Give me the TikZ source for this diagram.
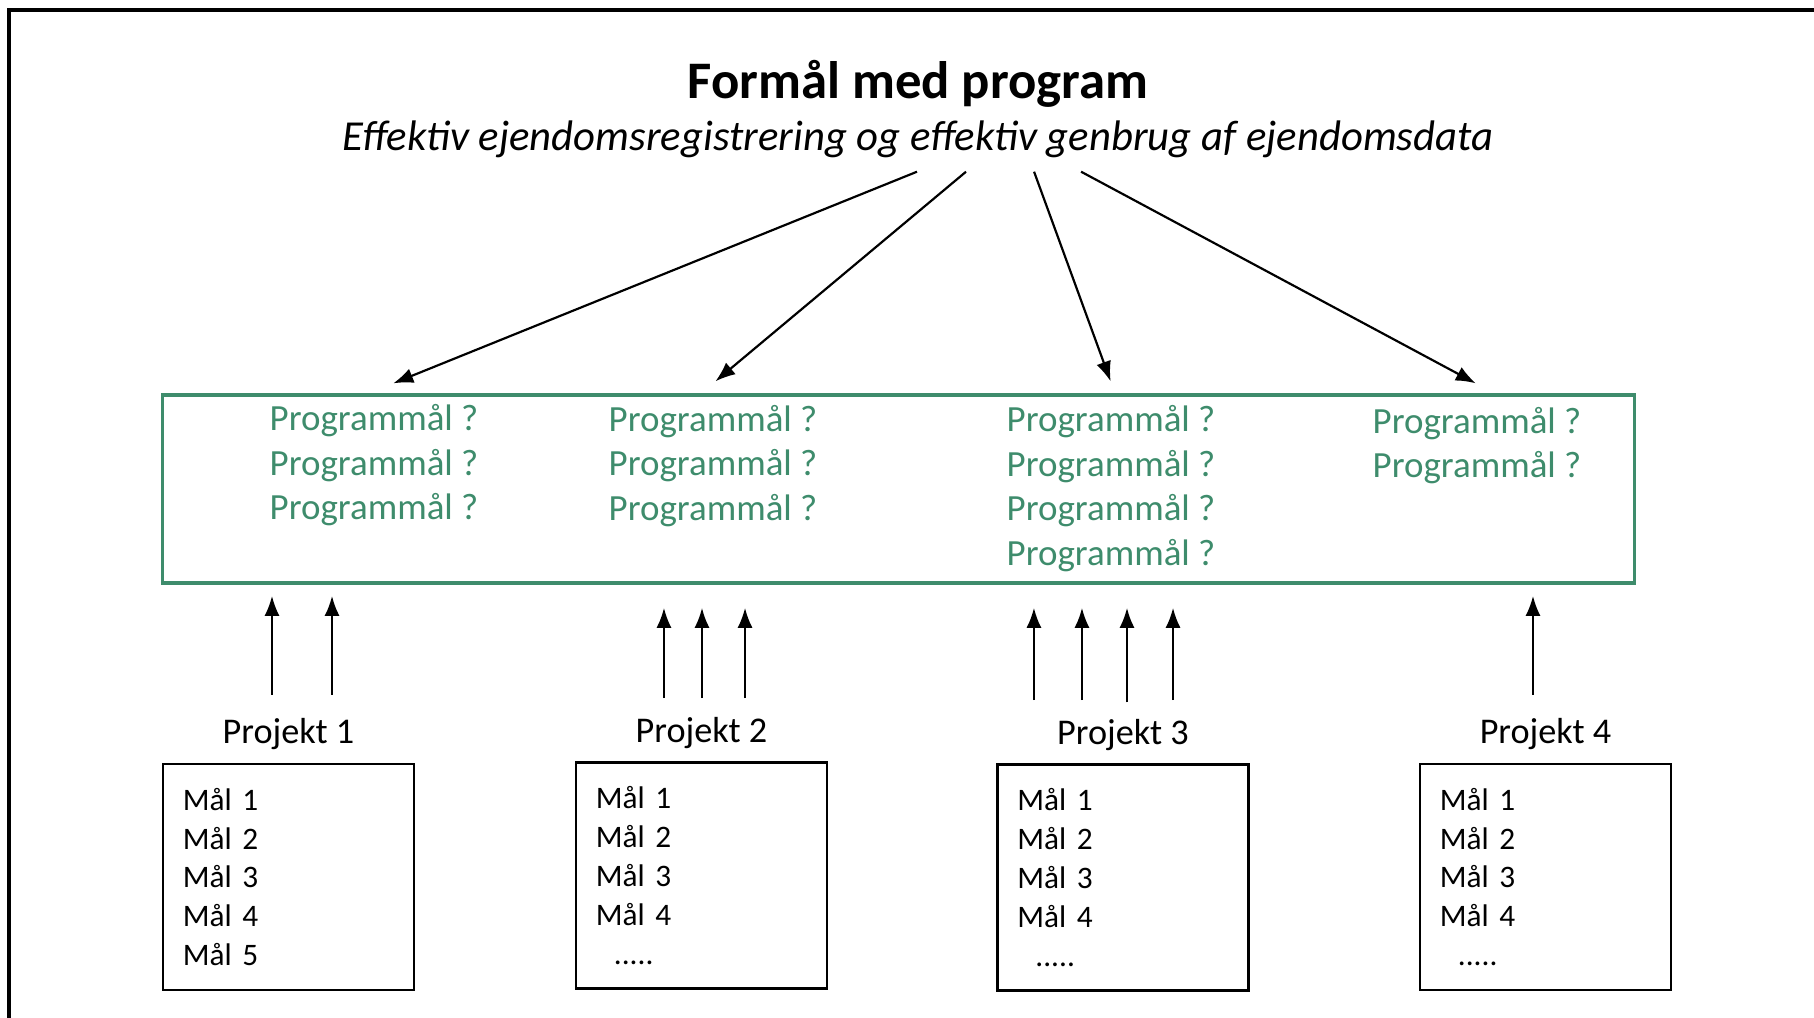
\documentclass[tikz,border=0pt]{standalone}
\usepackage{fontspec}
\setmainfont{Carlito}
\usepackage{xcolor}
\usetikzlibrary{positioning,arrows.meta}
\definecolor{goalgreen}{RGB}{62,140,108}

\begin{document}
\begin{tikzpicture}
[x=0.01cm, y=-0.01cm,
    every node/.style={inner sep=0pt, align=center},
    heading/.style={font=\fontsize{15}{18}\selectfont\bfseries},
    purpose/.style={font=\fontsize{12.15}{14}\selectfont\itshape},
    goalbox/.style={draw=goalgreen, line width=0.9pt,
        minimum width=14.71cm, minimum height=1.88cm},
    goaltext/.style={text=goalgreen, font=\fontsize{10.5}{12.66}\selectfont},
    projlabel/.style={font=\fontsize{10.3}{12}\selectfont},
    projbox/.style={draw, line width=0.7pt, minimum width=2.51cm,
        minimum height=2.26cm, text width=2.11cm, inner xsep=0.2cm,
        align=left, font=\fontsize{8.9}{11.04}\selectfont},
    toparrow/.style={-{Latex[length=5.7pt,width=4.3pt]}, line width=0.62pt},
    uparrow/.style={-{Latex[length=5.7pt,width=4.3pt]}, line width=0.62pt}
    ]
    \useasboundingbox (0,0) rectangle (1814,1018);

    % outer frame
    \draw[line width=1.1pt] (9,1018) -- (9,10) -- (1814,10);

    \node[heading] (title) at (918,84) {Formål med program};
    \node[purpose] (sub) at (918,139.5)
        {Effektiv ejendomsregistrering og effektiv genbrug af ejendomsdata};

    % programme goals
    \node[goalbox] (goals) at (898.5,489) {};
    \node[goaltext] (pm1) at (374,465.5) {Programmål ?\\Programmål ?\\Programmål ?};
    \node[goaltext] (pm2) at (713,466) {Programmål ?\\Programmål ?\\Programmål ?};
    \node[goaltext] (pm3) at (1111,488.5)
        {Programmål ?\\Programmål ?\\Programmål ?\\Programmål ?};
    \node[goaltext] (pm4) at (1477,445.5) {Programmål ?\\Programmål ?};

    \draw[toparrow] ([xshift=-0.01cm, yshift=-0.13cm]sub.south)
        -- ([xshift=-5.05cm, yshift=0.1cm]goals.north);
    \draw[toparrow] ([xshift=0.48cm, yshift=-0.13cm]sub.south)
        -- ([xshift=-1.83cm, yshift=0.12cm]goals.north);
    \draw[toparrow] ([xshift=1.16cm, yshift=-0.13cm]sub.south)
        -- ([xshift=2.12cm, yshift=0.12cm]goals.north);
    \draw[toparrow] ([xshift=1.63cm, yshift=-0.13cm]sub.south)
        -- ([xshift=5.77cm, yshift=0.1cm]goals.north);

    % projects
    \node[projbox] (b1) at (288.5,877) {Mål 1\\Mål 2\\Mål 3\\Mål 4\\Mål 5};
    \node[projbox] (b2) at (701.5,875.5)
        {Mål 1\\Mål 2\\Mål 3\\Mål 4\\\hspace*{0.18cm}.....};
    \node[projbox] (b3) at (1123,877.5)
        {Mål 1\\Mål 2\\Mål 3\\Mål 4\\\hspace*{0.18cm}.....};
    \node[projbox] (b4) at (1545.5,877)
        {Mål 1\\Mål 2\\Mål 3\\Mål 4\\\hspace*{0.18cm}.....};

    \node[projlabel, above=0.12cm of b1] (p1) {Projekt 1};
    \node[projlabel, above=0.12cm of b2] (p2) {Projekt 2};
    \node[projlabel, above=0.12cm of b3] (p3) {Projekt 3};
    \node[projlabel, above=0.12cm of b4] (p4) {Projekt 4};

    \draw[uparrow, shorten <=6.6pt, shorten >=3.2pt]
        ([xshift=-0.165cm]p1.north) -- ([xshift=-0.165cm]p1.north |- goals.south);
    \draw[uparrow, shorten <=6.6pt, shorten >=3.2pt]
        ([xshift=0.435cm]p1.north) -- ([xshift=0.435cm]p1.north |- goals.south);

    \draw[uparrow, shorten <=5.2pt, shorten >=6.6pt]
        ([xshift=-0.375cm]p2.north) -- ([xshift=-0.375cm]p2.north |- goals.south);
    \draw[uparrow, shorten <=5.2pt, shorten >=6.6pt]
        ([xshift=0.005cm]p2.north) -- ([xshift=0.005cm]p2.north |- goals.south);
    \draw[uparrow, shorten <=5.2pt, shorten >=6.6pt]
        ([xshift=0.435cm]p2.north) -- ([xshift=0.435cm]p2.north |- goals.south);

    \draw[uparrow, shorten <=5.2pt, shorten >=6.6pt]
        ([xshift=-0.89cm]p3.north) -- ([xshift=-0.89cm]p3.north |- goals.south);
    \draw[uparrow, shorten <=5.2pt, shorten >=6.6pt]
        ([xshift=-0.41cm]p3.north) -- ([xshift=-0.41cm]p3.north |- goals.south);
    \draw[uparrow, shorten <=4.6pt, shorten >=6.6pt]
        ([xshift=0.04cm]p3.north) -- ([xshift=0.04cm]p3.north |- goals.south);
    \draw[uparrow, shorten <=5.2pt, shorten >=6.6pt]
        ([xshift=0.5cm]p3.north) -- ([xshift=0.5cm]p3.north |- goals.south);

    \draw[uparrow, shorten <=6.6pt, shorten >=3.2pt]
        ([xshift=-0.125cm]p4.north) -- ([xshift=-0.125cm]p4.north |- goals.south);
\end{tikzpicture}
\end{document}
